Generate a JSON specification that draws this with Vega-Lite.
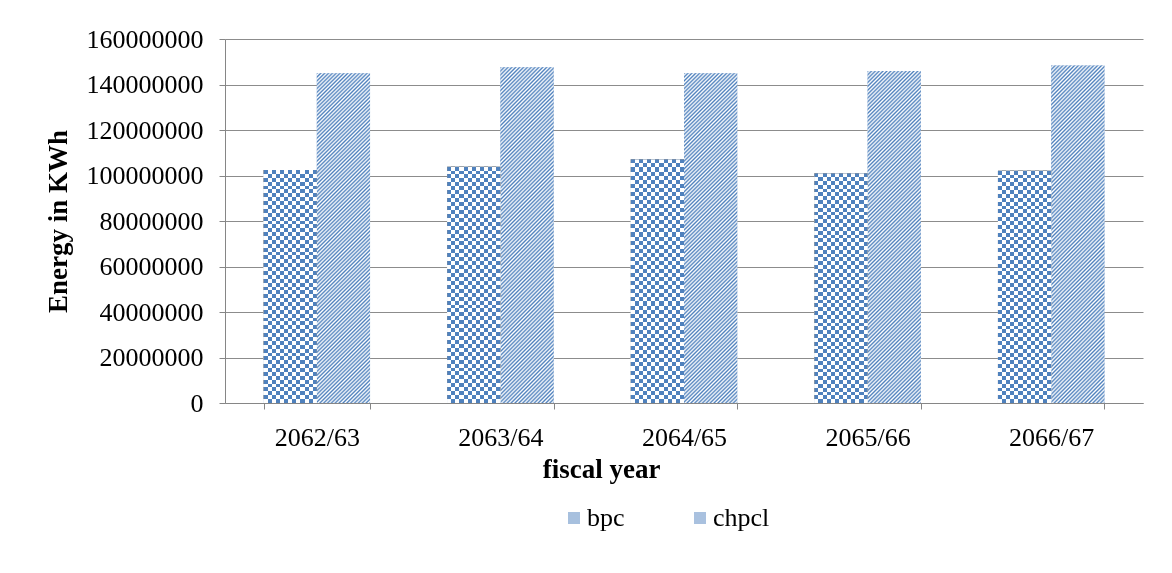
{
  "$schema": "https://vega.github.io/schema/vega-lite/v6.json",
  "width": 918,
  "height": 364,
  "autosize": {"type": "none"},
  "padding": {"left": 225, "top": 39, "right": 29, "bottom": 170},
  "background": "white",
  "config": {"view": {"stroke": null}, "font": "Liberation Serif"},
  "data": {
    "values": [
      {"year": "2062/63", "series": "bpc", "energy": 102400000},
      {"year": "2062/63", "series": "chpcl", "energy": 144900000},
      {"year": "2063/64", "series": "bpc", "energy": 103900000},
      {"year": "2063/64", "series": "chpcl", "energy": 147600000},
      {"year": "2064/65", "series": "bpc", "energy": 107100000},
      {"year": "2064/65", "series": "chpcl", "energy": 144900000},
      {"year": "2065/66", "series": "bpc", "energy": 101000000},
      {"year": "2065/66", "series": "chpcl", "energy": 145900000},
      {"year": "2066/67", "series": "bpc", "energy": 102100000},
      {"year": "2066/67", "series": "chpcl", "energy": 148300000}
    ]
  },
  "encoding": {
    "x": {
      "field": "year", "type": "nominal",
      "scale": {"paddingInner": 0.42, "paddingOuter": 0.21},
      "axis": {
        "title": "fiscal year", "labelAngle": 0, "tickBand": "extent",
        "tickSize": 6, "labelPadding": 15, "labelFontSize": 26, "labelColor": "black",
        "labelFont": "Liberation Serif", "titleFont": "Liberation Serif",
        "titleFontSize": 27, "titleFontWeight": "bold", "titleColor": "black", "titlePadding": 6,
        "titleX": 376, "titleAnchor": "middle",
        "domainColor": "#868686", "tickColor": "#868686", "grid": false
      }
    },
    "xOffset": {"field": "series", "type": "nominal", "scale": {"domain": ["bpc", "chpcl"]}},
    "y": {
      "field": "energy", "type": "quantitative",
      "scale": {"domain": [0, 160000000]},
      "axis": {
        "title": "Energy in KWh", "format": "d",
        "values": [0, 20000000, 40000000, 60000000, 80000000, 100000000, 120000000, 140000000, 160000000],
        "tickSize": 6, "labelPadding": 16, "labelFontSize": 26, "labelColor": "black",
        "labelFont": "Liberation Serif", "titleFont": "Liberation Serif",
        "titleFontSize": 27, "titleFontWeight": "bold", "titleColor": "black", "titlePadding": 14,
        "domainColor": "#868686", "tickColor": "#868686", "gridColor": "#8c8c8c", "grid": true
      }
    }
  },
  "layer": [
    {
      "mark": {"type": "bar"},
      "encoding": {
        "color": {
          "field": "series", "type": "nominal",
          "scale": {"domain": ["bpc", "chpcl"], "range": ["#a7c0de", "#a9c1df"]},
          "legend": {
            "orient": "none", "legendX": 336, "legendY": 466, "direction": "horizontal",
            "title": null, "symbolType": "square", "symbolSize": 144, "symbolStrokeWidth": 0,
            "labelFontSize": 26, "labelFont": "Liberation Serif", "labelColor": "black",
            "columnPadding": 62, "labelOffset": 0
          }
        }
      }
    },
    {
      "transform": [{"filter": "datum.series === 'chpcl'"}],
      "mark": {
        "type": "bar",
        "fill": {
          "gradient": "linear", "x1": 0, "y1": 0, "x2": 0.181, "y2": 1.131,
          "stops": [
            {"offset": 0, "color": "#4f81bd"}, {"offset": 0.005, "color": "#fff"},
            {"offset": 0.01, "color": "#4f81bd"}, {"offset": 0.015, "color": "#fff"},
            {"offset": 0.02, "color": "#4f81bd"}, {"offset": 0.025, "color": "#fff"},
            {"offset": 0.03, "color": "#4f81bd"}, {"offset": 0.035, "color": "#fff"},
            {"offset": 0.04, "color": "#4f81bd"}, {"offset": 0.045, "color": "#fff"},
            {"offset": 0.05, "color": "#4f81bd"}, {"offset": 0.055, "color": "#fff"},
            {"offset": 0.06, "color": "#4f81bd"}, {"offset": 0.065, "color": "#fff"},
            {"offset": 0.07, "color": "#4f81bd"}, {"offset": 0.075, "color": "#fff"},
            {"offset": 0.08, "color": "#4f81bd"}, {"offset": 0.085, "color": "#fff"},
            {"offset": 0.09, "color": "#4f81bd"}, {"offset": 0.095, "color": "#fff"},
            {"offset": 0.1, "color": "#4f81bd"}, {"offset": 0.105, "color": "#fff"},
            {"offset": 0.11, "color": "#4f81bd"}, {"offset": 0.115, "color": "#fff"},
            {"offset": 0.12, "color": "#4f81bd"}, {"offset": 0.125, "color": "#fff"},
            {"offset": 0.13, "color": "#4f81bd"}, {"offset": 0.135, "color": "#fff"},
            {"offset": 0.14, "color": "#4f81bd"}, {"offset": 0.145, "color": "#fff"},
            {"offset": 0.15, "color": "#4f81bd"}, {"offset": 0.155, "color": "#fff"},
            {"offset": 0.16, "color": "#4f81bd"}, {"offset": 0.165, "color": "#fff"},
            {"offset": 0.17, "color": "#4f81bd"}, {"offset": 0.175, "color": "#fff"},
            {"offset": 0.18, "color": "#4f81bd"}, {"offset": 0.185, "color": "#fff"},
            {"offset": 0.19, "color": "#4f81bd"}, {"offset": 0.195, "color": "#fff"},
            {"offset": 0.2, "color": "#4f81bd"}, {"offset": 0.205, "color": "#fff"},
            {"offset": 0.21, "color": "#4f81bd"}, {"offset": 0.215, "color": "#fff"},
            {"offset": 0.22, "color": "#4f81bd"}, {"offset": 0.225, "color": "#fff"},
            {"offset": 0.23, "color": "#4f81bd"}, {"offset": 0.235, "color": "#fff"},
            {"offset": 0.24, "color": "#4f81bd"}, {"offset": 0.245, "color": "#fff"},
            {"offset": 0.25, "color": "#4f81bd"}, {"offset": 0.255, "color": "#fff"},
            {"offset": 0.26, "color": "#4f81bd"}, {"offset": 0.265, "color": "#fff"},
            {"offset": 0.27, "color": "#4f81bd"}, {"offset": 0.275, "color": "#fff"},
            {"offset": 0.28, "color": "#4f81bd"}, {"offset": 0.285, "color": "#fff"},
            {"offset": 0.29, "color": "#4f81bd"}, {"offset": 0.295, "color": "#fff"},
            {"offset": 0.3, "color": "#4f81bd"}, {"offset": 0.305, "color": "#fff"},
            {"offset": 0.31, "color": "#4f81bd"}, {"offset": 0.315, "color": "#fff"},
            {"offset": 0.32, "color": "#4f81bd"}, {"offset": 0.325, "color": "#fff"},
            {"offset": 0.33, "color": "#4f81bd"}, {"offset": 0.335, "color": "#fff"},
            {"offset": 0.34, "color": "#4f81bd"}, {"offset": 0.345, "color": "#fff"},
            {"offset": 0.35, "color": "#4f81bd"}, {"offset": 0.355, "color": "#fff"},
            {"offset": 0.36, "color": "#4f81bd"}, {"offset": 0.365, "color": "#fff"},
            {"offset": 0.37, "color": "#4f81bd"}, {"offset": 0.375, "color": "#fff"},
            {"offset": 0.38, "color": "#4f81bd"}, {"offset": 0.385, "color": "#fff"},
            {"offset": 0.39, "color": "#4f81bd"}, {"offset": 0.395, "color": "#fff"},
            {"offset": 0.4, "color": "#4f81bd"}, {"offset": 0.405, "color": "#fff"},
            {"offset": 0.41, "color": "#4f81bd"}, {"offset": 0.415, "color": "#fff"},
            {"offset": 0.42, "color": "#4f81bd"}, {"offset": 0.425, "color": "#fff"},
            {"offset": 0.43, "color": "#4f81bd"}, {"offset": 0.435, "color": "#fff"},
            {"offset": 0.44, "color": "#4f81bd"}, {"offset": 0.445, "color": "#fff"},
            {"offset": 0.45, "color": "#4f81bd"}, {"offset": 0.455, "color": "#fff"},
            {"offset": 0.46, "color": "#4f81bd"}, {"offset": 0.465, "color": "#fff"},
            {"offset": 0.47, "color": "#4f81bd"}, {"offset": 0.475, "color": "#fff"},
            {"offset": 0.48, "color": "#4f81bd"}, {"offset": 0.485, "color": "#fff"},
            {"offset": 0.49, "color": "#4f81bd"}, {"offset": 0.495, "color": "#fff"},
            {"offset": 0.5, "color": "#4f81bd"}, {"offset": 0.505, "color": "#fff"},
            {"offset": 0.51, "color": "#4f81bd"}, {"offset": 0.515, "color": "#fff"},
            {"offset": 0.52, "color": "#4f81bd"}, {"offset": 0.525, "color": "#fff"},
            {"offset": 0.53, "color": "#4f81bd"}, {"offset": 0.535, "color": "#fff"},
            {"offset": 0.54, "color": "#4f81bd"}, {"offset": 0.545, "color": "#fff"},
            {"offset": 0.55, "color": "#4f81bd"}, {"offset": 0.555, "color": "#fff"},
            {"offset": 0.56, "color": "#4f81bd"}, {"offset": 0.565, "color": "#fff"},
            {"offset": 0.57, "color": "#4f81bd"}, {"offset": 0.575, "color": "#fff"},
            {"offset": 0.58, "color": "#4f81bd"}, {"offset": 0.585, "color": "#fff"},
            {"offset": 0.59, "color": "#4f81bd"}, {"offset": 0.595, "color": "#fff"},
            {"offset": 0.6, "color": "#4f81bd"}, {"offset": 0.605, "color": "#fff"},
            {"offset": 0.61, "color": "#4f81bd"}, {"offset": 0.615, "color": "#fff"},
            {"offset": 0.62, "color": "#4f81bd"}, {"offset": 0.625, "color": "#fff"},
            {"offset": 0.63, "color": "#4f81bd"}, {"offset": 0.635, "color": "#fff"},
            {"offset": 0.64, "color": "#4f81bd"}, {"offset": 0.645, "color": "#fff"},
            {"offset": 0.65, "color": "#4f81bd"}, {"offset": 0.655, "color": "#fff"},
            {"offset": 0.66, "color": "#4f81bd"}, {"offset": 0.665, "color": "#fff"},
            {"offset": 0.67, "color": "#4f81bd"}, {"offset": 0.675, "color": "#fff"},
            {"offset": 0.68, "color": "#4f81bd"}, {"offset": 0.685, "color": "#fff"},
            {"offset": 0.69, "color": "#4f81bd"}, {"offset": 0.695, "color": "#fff"},
            {"offset": 0.7, "color": "#4f81bd"}, {"offset": 0.705, "color": "#fff"},
            {"offset": 0.71, "color": "#4f81bd"}, {"offset": 0.715, "color": "#fff"},
            {"offset": 0.72, "color": "#4f81bd"}, {"offset": 0.725, "color": "#fff"},
            {"offset": 0.73, "color": "#4f81bd"}, {"offset": 0.735, "color": "#fff"},
            {"offset": 0.74, "color": "#4f81bd"}, {"offset": 0.745, "color": "#fff"},
            {"offset": 0.75, "color": "#4f81bd"}, {"offset": 0.755, "color": "#fff"},
            {"offset": 0.76, "color": "#4f81bd"}, {"offset": 0.765, "color": "#fff"},
            {"offset": 0.77, "color": "#4f81bd"}, {"offset": 0.775, "color": "#fff"},
            {"offset": 0.78, "color": "#4f81bd"}, {"offset": 0.785, "color": "#fff"},
            {"offset": 0.79, "color": "#4f81bd"}, {"offset": 0.795, "color": "#fff"},
            {"offset": 0.8, "color": "#4f81bd"}, {"offset": 0.805, "color": "#fff"},
            {"offset": 0.81, "color": "#4f81bd"}, {"offset": 0.815, "color": "#fff"},
            {"offset": 0.82, "color": "#4f81bd"}, {"offset": 0.825, "color": "#fff"},
            {"offset": 0.83, "color": "#4f81bd"}, {"offset": 0.835, "color": "#fff"},
            {"offset": 0.84, "color": "#4f81bd"}, {"offset": 0.845, "color": "#fff"},
            {"offset": 0.85, "color": "#4f81bd"}, {"offset": 0.855, "color": "#fff"},
            {"offset": 0.86, "color": "#4f81bd"}, {"offset": 0.865, "color": "#fff"},
            {"offset": 0.87, "color": "#4f81bd"}, {"offset": 0.875, "color": "#fff"},
            {"offset": 0.88, "color": "#4f81bd"}, {"offset": 0.885, "color": "#fff"},
            {"offset": 0.89, "color": "#4f81bd"}, {"offset": 0.895, "color": "#fff"},
            {"offset": 0.9, "color": "#4f81bd"}, {"offset": 0.905, "color": "#fff"},
            {"offset": 0.91, "color": "#4f81bd"}, {"offset": 0.915, "color": "#fff"},
            {"offset": 0.92, "color": "#4f81bd"}, {"offset": 0.925, "color": "#fff"},
            {"offset": 0.93, "color": "#4f81bd"}, {"offset": 0.935, "color": "#fff"},
            {"offset": 0.94, "color": "#4f81bd"}, {"offset": 0.945, "color": "#fff"},
            {"offset": 0.95, "color": "#4f81bd"}, {"offset": 0.955, "color": "#fff"},
            {"offset": 0.96, "color": "#4f81bd"}, {"offset": 0.965, "color": "#fff"},
            {"offset": 0.97, "color": "#4f81bd"}, {"offset": 0.975, "color": "#fff"},
            {"offset": 0.98, "color": "#4f81bd"}, {"offset": 0.985, "color": "#fff"},
            {"offset": 0.99, "color": "#4f81bd"}, {"offset": 0.995, "color": "#fff"},
            {"offset": 1, "color": "#4f81bd"}
          ]
        }
      }
    },
    {
      "transform": [{"filter": "datum.series === 'bpc'"}],
      "mark": {
        "type": "bar",
        "fill": {
          "gradient": "linear", "x1": 0, "y1": 0, "x2": 1, "y2": 0,
          "stops": [
            {"offset": 0, "color": "#fff"}, {"offset": 0.0769, "color": "#fff"},
            {"offset": 0.0769, "color": "#000"}, {"offset": 0.1538, "color": "#000"},
            {"offset": 0.1538, "color": "#fff"}, {"offset": 0.2308, "color": "#fff"},
            {"offset": 0.2308, "color": "#000"}, {"offset": 0.3077, "color": "#000"},
            {"offset": 0.3077, "color": "#fff"}, {"offset": 0.3846, "color": "#fff"},
            {"offset": 0.3846, "color": "#000"}, {"offset": 0.4615, "color": "#000"},
            {"offset": 0.4615, "color": "#fff"}, {"offset": 0.5385, "color": "#fff"},
            {"offset": 0.5385, "color": "#000"}, {"offset": 0.6154, "color": "#000"},
            {"offset": 0.6154, "color": "#fff"}, {"offset": 0.6923, "color": "#fff"},
            {"offset": 0.6923, "color": "#000"}, {"offset": 0.7692, "color": "#000"},
            {"offset": 0.7692, "color": "#fff"}, {"offset": 0.8462, "color": "#fff"},
            {"offset": 0.8462, "color": "#000"}, {"offset": 0.9231, "color": "#000"},
            {"offset": 0.9231, "color": "#fff"}, {"offset": 1, "color": "#fff"}
          ]
        }
      }
    },
    {
      "transform": [{"filter": "datum.series === 'bpc'"}],
      "mark": {
        "type": "bar",
        "blend": "difference",
        "fill": {
          "gradient": "linear", "x1": 0, "y1": 0, "x2": 0, "y2": 1,
          "stops": [
            {"offset": 0, "color": "#fff"}, {"offset": 0.0167, "color": "#fff"},
            {"offset": 0.0167, "color": "#000"}, {"offset": 0.0333, "color": "#000"},
            {"offset": 0.0333, "color": "#fff"}, {"offset": 0.05, "color": "#fff"},
            {"offset": 0.05, "color": "#000"}, {"offset": 0.0667, "color": "#000"},
            {"offset": 0.0667, "color": "#fff"}, {"offset": 0.0833, "color": "#fff"},
            {"offset": 0.0833, "color": "#000"}, {"offset": 0.1, "color": "#000"},
            {"offset": 0.1, "color": "#fff"}, {"offset": 0.1167, "color": "#fff"},
            {"offset": 0.1167, "color": "#000"}, {"offset": 0.1333, "color": "#000"},
            {"offset": 0.1333, "color": "#fff"}, {"offset": 0.15, "color": "#fff"},
            {"offset": 0.15, "color": "#000"}, {"offset": 0.1667, "color": "#000"},
            {"offset": 0.1667, "color": "#fff"}, {"offset": 0.1833, "color": "#fff"},
            {"offset": 0.1833, "color": "#000"}, {"offset": 0.2, "color": "#000"},
            {"offset": 0.2, "color": "#fff"}, {"offset": 0.2167, "color": "#fff"},
            {"offset": 0.2167, "color": "#000"}, {"offset": 0.2333, "color": "#000"},
            {"offset": 0.2333, "color": "#fff"}, {"offset": 0.25, "color": "#fff"},
            {"offset": 0.25, "color": "#000"}, {"offset": 0.2667, "color": "#000"},
            {"offset": 0.2667, "color": "#fff"}, {"offset": 0.2833, "color": "#fff"},
            {"offset": 0.2833, "color": "#000"}, {"offset": 0.3, "color": "#000"},
            {"offset": 0.3, "color": "#fff"}, {"offset": 0.3167, "color": "#fff"},
            {"offset": 0.3167, "color": "#000"}, {"offset": 0.3333, "color": "#000"},
            {"offset": 0.3333, "color": "#fff"}, {"offset": 0.35, "color": "#fff"},
            {"offset": 0.35, "color": "#000"}, {"offset": 0.3667, "color": "#000"},
            {"offset": 0.3667, "color": "#fff"}, {"offset": 0.3833, "color": "#fff"},
            {"offset": 0.3833, "color": "#000"}, {"offset": 0.4, "color": "#000"},
            {"offset": 0.4, "color": "#fff"}, {"offset": 0.4167, "color": "#fff"},
            {"offset": 0.4167, "color": "#000"}, {"offset": 0.4333, "color": "#000"},
            {"offset": 0.4333, "color": "#fff"}, {"offset": 0.45, "color": "#fff"},
            {"offset": 0.45, "color": "#000"}, {"offset": 0.4667, "color": "#000"},
            {"offset": 0.4667, "color": "#fff"}, {"offset": 0.4833, "color": "#fff"},
            {"offset": 0.4833, "color": "#000"}, {"offset": 0.5, "color": "#000"},
            {"offset": 0.5, "color": "#fff"}, {"offset": 0.5167, "color": "#fff"},
            {"offset": 0.5167, "color": "#000"}, {"offset": 0.5333, "color": "#000"},
            {"offset": 0.5333, "color": "#fff"}, {"offset": 0.55, "color": "#fff"},
            {"offset": 0.55, "color": "#000"}, {"offset": 0.5667, "color": "#000"},
            {"offset": 0.5667, "color": "#fff"}, {"offset": 0.5833, "color": "#fff"},
            {"offset": 0.5833, "color": "#000"}, {"offset": 0.6, "color": "#000"},
            {"offset": 0.6, "color": "#fff"}, {"offset": 0.6167, "color": "#fff"},
            {"offset": 0.6167, "color": "#000"}, {"offset": 0.6333, "color": "#000"},
            {"offset": 0.6333, "color": "#fff"}, {"offset": 0.65, "color": "#fff"},
            {"offset": 0.65, "color": "#000"}, {"offset": 0.6667, "color": "#000"},
            {"offset": 0.6667, "color": "#fff"}, {"offset": 0.6833, "color": "#fff"},
            {"offset": 0.6833, "color": "#000"}, {"offset": 0.7, "color": "#000"},
            {"offset": 0.7, "color": "#fff"}, {"offset": 0.7167, "color": "#fff"},
            {"offset": 0.7167, "color": "#000"}, {"offset": 0.7333, "color": "#000"},
            {"offset": 0.7333, "color": "#fff"}, {"offset": 0.75, "color": "#fff"},
            {"offset": 0.75, "color": "#000"}, {"offset": 0.7667, "color": "#000"},
            {"offset": 0.7667, "color": "#fff"}, {"offset": 0.7833, "color": "#fff"},
            {"offset": 0.7833, "color": "#000"}, {"offset": 0.8, "color": "#000"},
            {"offset": 0.8, "color": "#fff"}, {"offset": 0.8167, "color": "#fff"},
            {"offset": 0.8167, "color": "#000"}, {"offset": 0.8333, "color": "#000"},
            {"offset": 0.8333, "color": "#fff"}, {"offset": 0.85, "color": "#fff"},
            {"offset": 0.85, "color": "#000"}, {"offset": 0.8667, "color": "#000"},
            {"offset": 0.8667, "color": "#fff"}, {"offset": 0.8833, "color": "#fff"},
            {"offset": 0.8833, "color": "#000"}, {"offset": 0.9, "color": "#000"},
            {"offset": 0.9, "color": "#fff"}, {"offset": 0.9167, "color": "#fff"},
            {"offset": 0.9167, "color": "#000"}, {"offset": 0.9333, "color": "#000"},
            {"offset": 0.9333, "color": "#fff"}, {"offset": 0.95, "color": "#fff"},
            {"offset": 0.95, "color": "#000"}, {"offset": 0.9667, "color": "#000"},
            {"offset": 0.9667, "color": "#fff"}, {"offset": 0.9833, "color": "#fff"},
            {"offset": 0.9833, "color": "#000"}, {"offset": 1, "color": "#000"}
          ]
        }
      }
    },
    {
      "transform": [{"filter": "datum.series === 'bpc'"}],
      "mark": {"type": "bar", "blend": "screen", "fill": "#4f81bd"}
    }
  ]
}
